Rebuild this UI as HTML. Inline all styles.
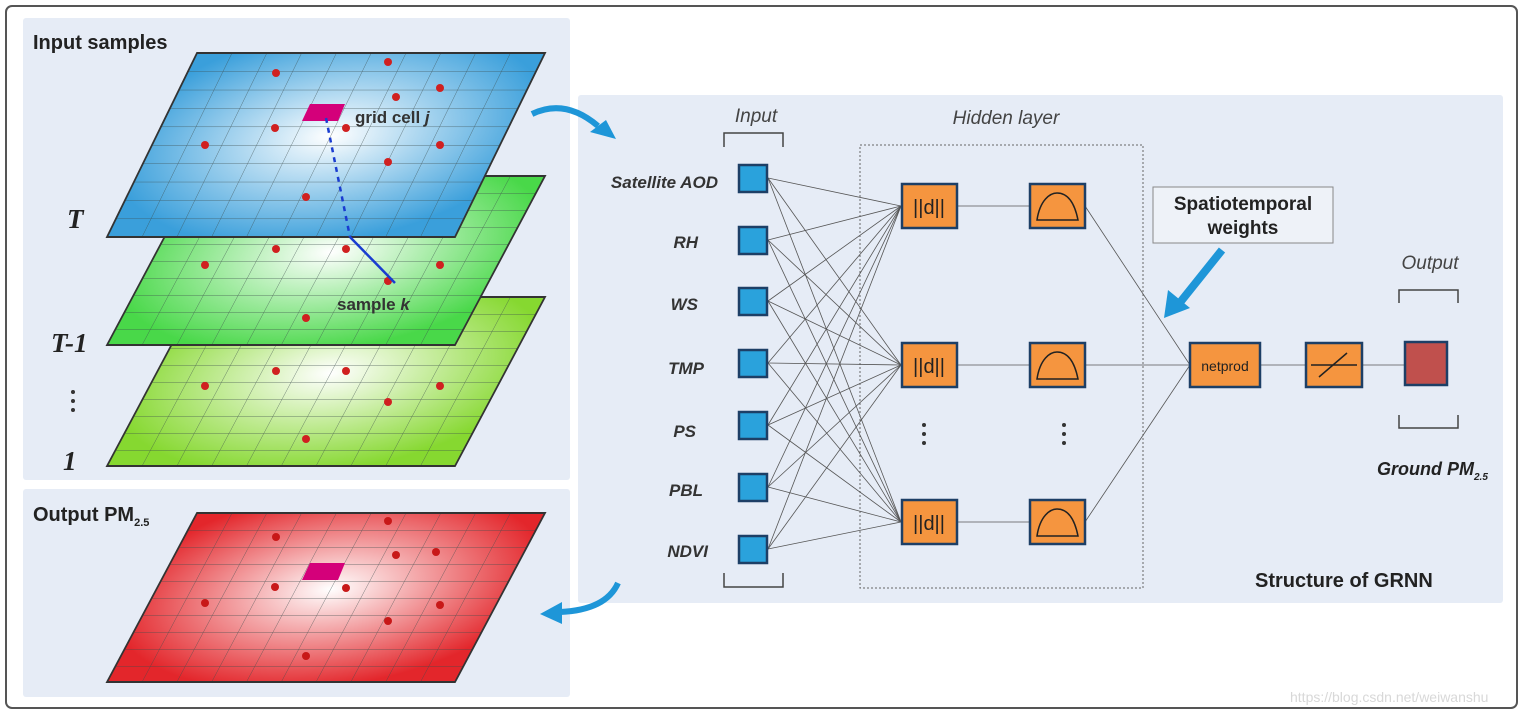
<!DOCTYPE html>
<html><head><meta charset="utf-8"><style>
html,body{margin:0;padding:0;background:#fff;}
svg{display:block;}
.s{font-family:"Liberation Sans",Arial,sans-serif;}
.serif{font-family:"Liberation Serif","Times New Roman",serif;}
</style></head><body>
<svg width="1522" height="716" viewBox="0 0 1522 716" xmlns="http://www.w3.org/2000/svg">
<defs>
<radialGradient id="gb" cx="0.5" cy="0.45" r="0.6"><stop offset="0" stop-color="#ffffff"/><stop offset="1" stop-color="#3a9fdb"/></radialGradient>
<radialGradient id="gg" cx="0.5" cy="0.45" r="0.6"><stop offset="0" stop-color="#ffffff"/><stop offset="1" stop-color="#49d849"/></radialGradient>
<radialGradient id="gy" cx="0.5" cy="0.45" r="0.6"><stop offset="0" stop-color="#ffffff"/><stop offset="1" stop-color="#86d830"/></radialGradient>
<radialGradient id="gr" cx="0.5" cy="0.45" r="0.6"><stop offset="0" stop-color="#ffffff"/><stop offset="1" stop-color="#e3262b"/></radialGradient>
<pattern id="grid" patternUnits="userSpaceOnUse" width="34.8" height="17"><path d="M0 0 H34.8 M0 0 V17" fill="none" stroke="#3a4a4a" stroke-width="0.9" stroke-opacity="0.75"/></pattern>
<pattern id="gridb" patternUnits="userSpaceOnUse" width="34.8" height="18.4"><path d="M0 0 H34.8 M0 0 V18.4" fill="none" stroke="#3a4a4a" stroke-width="0.9" stroke-opacity="0.75"/></pattern>
</defs>
<g class="s">
<rect x="6" y="6" width="1511" height="702" rx="6" fill="#fff" stroke="#555" stroke-width="2"/>
<rect x="23" y="18" width="547" height="462" rx="3" fill="#e6ecf6"/>
<rect x="23" y="489" width="547" height="208" rx="3" fill="#e6ecf6"/>
<rect x="578" y="95" width="925" height="508" rx="3" fill="#e6ecf6"/>

<text x="33" y="49" font-size="20" font-weight="bold" fill="#222">Input samples</text>
<text x="33" y="521" font-size="20" font-weight="bold" fill="#222">Output PM<tspan font-size="11" dy="5">2.5</tspan></text>

<g transform="translate(197,297) skewX(-28.03)"><rect width="348" height="169" fill="url(#gy)"/><rect width="348" height="169" fill="url(#grid)"/><rect width="348" height="169" fill="none" stroke="#333" stroke-width="2"/></g>
<g transform="translate(197,176) skewX(-28.03)"><rect width="348" height="169" fill="url(#gg)"/><rect width="348" height="169" fill="url(#grid)"/><rect width="348" height="169" fill="none" stroke="#333" stroke-width="2"/></g>
<g fill="#d02020"><circle cx="276" cy="371" r="4"/><circle cx="346" cy="371" r="4"/><circle cx="205" cy="386" r="4"/><circle cx="440" cy="386" r="4"/><circle cx="388" cy="402" r="4"/><circle cx="306" cy="439" r="4"/>
<circle cx="276" cy="249" r="4"/><circle cx="346" cy="249" r="4"/><circle cx="205" cy="265" r="4"/><circle cx="440" cy="265" r="4"/><circle cx="388" cy="281" r="4"/><circle cx="306" cy="318" r="4"/></g>
<g transform="translate(197,53) skewX(-26.06)"><rect width="348" height="184" fill="url(#gb)"/><rect width="348" height="184" fill="url(#gridb)"/><rect width="348" height="184" fill="none" stroke="#333" stroke-width="2"/></g>
<polygon points="310,104 345,104 338,121 302,121" fill="#d4007a"/>
<g fill="#d02020"><circle cx="388" cy="62" r="4"/><circle cx="276" cy="73" r="4"/><circle cx="396" cy="97" r="4"/><circle cx="440" cy="88" r="4"/><circle cx="275" cy="128" r="4"/><circle cx="346" cy="128" r="4"/><circle cx="205" cy="145" r="4"/><circle cx="440" cy="145" r="4"/><circle cx="388" cy="162" r="4"/><circle cx="306" cy="197" r="4"/></g>
<line x1="326" y1="118" x2="350" y2="237" stroke="#1a3cd0" stroke-width="2.5" stroke-dasharray="5,5"/>
<line x1="350" y1="237" x2="395" y2="283" stroke="#1a3cd0" stroke-width="2.5"/>
<text x="355" y="123" font-size="17" font-weight="bold" fill="#333">grid cell <tspan font-style="italic">j</tspan></text>
<text x="337" y="310" font-size="17" font-weight="bold" fill="#333">sample <tspan font-style="italic">k</tspan></text>

<g class="serif" font-weight="bold" font-style="italic" font-size="27" fill="#222">
<text x="67" y="228">T</text>
<text x="51" y="352">T-1</text>
<text x="63" y="470">1</text></g>
<g fill="#333"><circle cx="73" cy="392" r="2"/><circle cx="73" cy="401" r="2"/><circle cx="73" cy="410" r="2"/></g>

<g transform="translate(197,513) skewX(-28.03)"><rect width="348" height="169" fill="url(#gr)"/><rect width="348" height="169" fill="url(#grid)"/><rect width="348" height="169" fill="none" stroke="#333" stroke-width="2"/></g>
<polygon points="310,563 345,563 338,580 302,580" fill="#d4007a"/>
<g fill="#c81818"><circle cx="388" cy="521" r="4"/><circle cx="276" cy="537" r="4"/><circle cx="396" cy="555" r="4"/><circle cx="436" cy="552" r="4"/><circle cx="275" cy="587" r="4"/><circle cx="346" cy="588" r="4"/><circle cx="205" cy="603" r="4"/><circle cx="440" cy="605" r="4"/><circle cx="388" cy="621" r="4"/><circle cx="306" cy="656" r="4"/></g>

<path d="M532 114 Q565 98 598 126" fill="none" stroke="#1e96d8" stroke-width="6"/>
<polygon points="590,132 606,120 616,139" fill="#1e96d8"/>
<path d="M618 583 Q606 610 560 612" fill="none" stroke="#1e96d8" stroke-width="6"/>
<polygon points="562,602 562,624 540,614" fill="#1e96d8"/>

<g font-style="italic" fill="#444" font-size="19"><text x="756" y="122" text-anchor="middle">Input</text><text x="1006" y="124" text-anchor="middle">Hidden layer</text><text x="1430" y="269" text-anchor="middle">Output</text></g>
<g fill="none" stroke="#444" stroke-width="1.5">
<path d="M724 147 V133 H783 V147"/><path d="M724 573 V587 H783 V573"/>
<path d="M1399 303 V290 H1458 V303"/><path d="M1399 415 V428 H1458 V415"/></g>
<rect x="860" y="145" width="283" height="443" fill="none" stroke="#666" stroke-dasharray="2,2"/>
<g stroke="#555" stroke-width="0.8">
<line x1="768" y1="178" x2="901" y2="206"/><line x1="768" y1="178" x2="901" y2="365"/><line x1="768" y1="178" x2="901" y2="522"/>
<line x1="768" y1="240" x2="901" y2="206"/><line x1="768" y1="240" x2="901" y2="365"/><line x1="768" y1="240" x2="901" y2="522"/>
<line x1="768" y1="301" x2="901" y2="206"/><line x1="768" y1="301" x2="901" y2="365"/><line x1="768" y1="301" x2="901" y2="522"/>
<line x1="768" y1="363" x2="901" y2="206"/><line x1="768" y1="363" x2="901" y2="365"/><line x1="768" y1="363" x2="901" y2="522"/>
<line x1="768" y1="425" x2="901" y2="206"/><line x1="768" y1="425" x2="901" y2="365"/><line x1="768" y1="425" x2="901" y2="522"/>
<line x1="768" y1="487" x2="901" y2="206"/><line x1="768" y1="487" x2="901" y2="365"/><line x1="768" y1="487" x2="901" y2="522"/>
<line x1="768" y1="549" x2="901" y2="206"/><line x1="768" y1="549" x2="901" y2="365"/><line x1="768" y1="549" x2="901" y2="522"/>
<line x1="957" y1="206" x2="1030" y2="206"/><line x1="957" y1="365" x2="1030" y2="365"/><line x1="957" y1="522" x2="1030" y2="522"/>
<line x1="1085" y1="206" x2="1190" y2="365"/><line x1="1085" y1="365" x2="1190" y2="365"/><line x1="1085" y1="522" x2="1190" y2="365"/>
<line x1="1260" y1="365" x2="1306" y2="365"/><line x1="1362" y1="365" x2="1405" y2="365"/></g>
<g fill="#2aa2dc" stroke="#1d3f66" stroke-width="2.5">
<rect x="739" y="165" width="28" height="27"/><rect x="739" y="227" width="28" height="27"/><rect x="739" y="288" width="28" height="27"/><rect x="739" y="350" width="28" height="27"/><rect x="739" y="412" width="28" height="27"/><rect x="739" y="474" width="28" height="27"/><rect x="739" y="536" width="28" height="27"/></g>
<g font-weight="bold" font-style="italic" font-size="17" fill="#333" text-anchor="end">
<text x="718" y="188">Satellite AOD</text><text x="698" y="248">RH</text><text x="698" y="310">WS</text><text x="704" y="374">TMP</text><text x="696" y="437">PS</text><text x="703" y="496">PBL</text><text x="708" y="557">NDVI</text></g>
<g fill="#f5953f" stroke="#1d3f66" stroke-width="2.5">
<rect x="902" y="184" width="55" height="44"/><rect x="902" y="343" width="55" height="44"/><rect x="902" y="500" width="55" height="44"/>
<rect x="1030" y="184" width="55" height="44"/><rect x="1030" y="343" width="55" height="44"/><rect x="1030" y="500" width="55" height="44"/>
<rect x="1190" y="343" width="70" height="44"/><rect x="1306" y="343" width="56" height="44"/></g>
<rect x="1405" y="342" width="42" height="43" fill="#c0504d" stroke="#1d3f66" stroke-width="2.5"/>
<g font-size="20" fill="#222" text-anchor="middle"><text x="929" y="214">||d||</text><text x="929" y="373">||d||</text><text x="929" y="530">||d||</text></g>
<text x="1225" y="371" font-size="14" fill="#222" text-anchor="middle">netprod</text>
<g fill="none" stroke="#222" stroke-width="1.5">
<path d="M1037 220 C1040 200 1050 193 1057 193 C1066 193 1074 200 1078 220 Z"/><path d="M1037 379 C1040 359 1050 352 1057 352 C1066 352 1074 359 1078 379 Z"/><path d="M1037 536 C1040 516 1050 509 1057 509 C1066 509 1074 516 1078 536 Z"/>
<line x1="1311" y1="365" x2="1357" y2="365"/><line x1="1319" y1="377" x2="1347" y2="353"/></g>
<g fill="#333"><circle cx="924" cy="425" r="2"/><circle cx="924" cy="434" r="2"/><circle cx="924" cy="443" r="2"/><circle cx="1064" cy="425" r="2"/><circle cx="1064" cy="434" r="2"/><circle cx="1064" cy="443" r="2"/></g>
<rect x="1153" y="187" width="180" height="56" fill="#eef2f8" stroke="#888"/>
<text x="1243" y="210" font-size="19" font-weight="bold" fill="#222" text-anchor="middle">Spatiotemporal</text>
<text x="1243" y="234" font-size="19" font-weight="bold" fill="#222" text-anchor="middle">weights</text>
<line x1="1222" y1="250" x2="1178" y2="305" stroke="#1e96d8" stroke-width="8"/>
<polygon points="1164,318 1168,290 1190,308" fill="#1e96d8"/>
<text x="1377" y="475" font-size="18" font-weight="bold" font-style="italic" fill="#222">Ground PM<tspan font-size="10" dy="5">2.5</tspan></text>
<text x="1255" y="587" font-size="20" font-weight="bold" fill="#222">Structure of GRNN</text>
<text x="1290" y="702" font-size="14" fill="#d8d8d8">https://blog.csdn.net/weiwanshu</text>
</g>
</svg>
</body></html>
